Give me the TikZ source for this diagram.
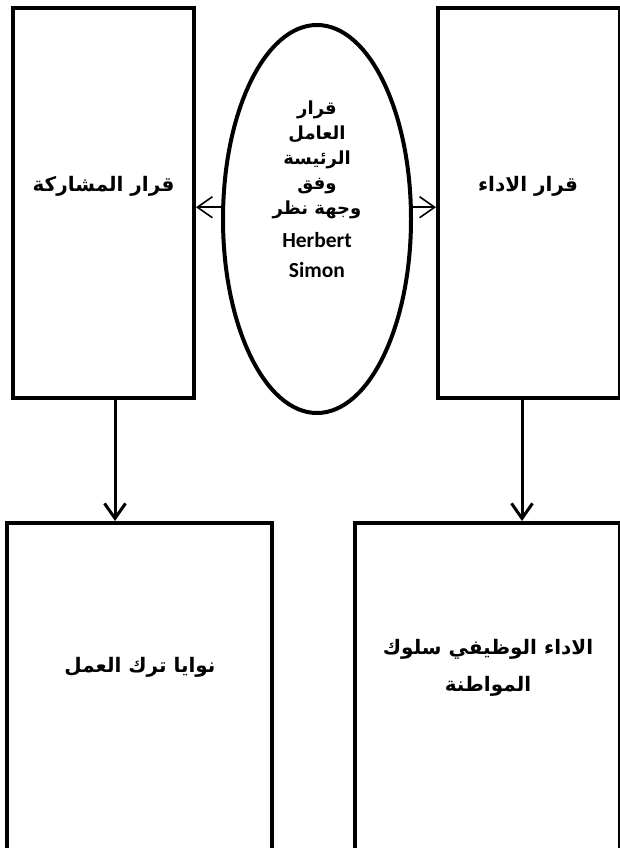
\documentclass[tikz,border=0pt]{standalone}
\usepackage{fontspec}
\usetikzlibrary{arrows.meta,shapes.geometric}
\TeXXeTstate=1
\newfontfamily\arabicfont[Script=Arabic]{DejaVu Sans}
\newfontfamily\latinfont{Carlito}

\begin{document}
\begin{tikzpicture}[x=1pt,y=1pt,
    box/.style={draw, line width=4pt, rectangle, inner sep=0pt},
    txt/.style={font=\arabicfont\bfseries\fontsize{20}{25}\selectfont, align=center},
    harr/.style={-{Straight Barb[length=15pt,width=21pt]}, line width=1.6pt},
    varr/.style={-{Straight Barb[length=15pt,width=21pt]}, line width=3pt}]
    \useasboundingbox (0,0) rectangle (619,-848);
    \fill[white] (0,0) rectangle (619,-848);
    \begin{scope}
        \node[box, minimum width=181pt, minimum height=390pt] (part) at (103.5,-203) {};
        \node[box, minimum width=182pt, minimum height=390pt] (perf) at (529,-203) {};
        \node[draw, ellipse, line width=4pt, inner sep=0pt, minimum width=188pt, minimum height=388pt] (ell) at (317,-219) {};
        \node[box, minimum width=265pt, minimum height=357pt] (leave) at (139.5,-701.5) {};
        \node[box, minimum width=265pt, minimum height=357pt] (ocb) at (487.5,-701.5) {};
    \end{scope}
    \node[txt] (partText) at (103.5,-186) {\beginR قرار المشاركة\endR};
    \node[txt] (perfText) at (528,-186) {\beginR قرار الاداء\endR};
    \node[txt, font=\arabicfont\bfseries\fontsize{18}{25}\selectfont] (ellText) at (317,-189) {\beginR قرار\endR\\ \beginR العامل\endR\\ \beginR الرئيسة\endR\\ \beginR وفق\endR\\ \beginR وجهة نظر\endR\\[8pt]
        {\latinfont\fontsize{21.5}{30}\selectfont Herbert}\\[5pt] {\latinfont\fontsize{21.5}{30}\selectfont Simon}};
    \node[txt] (leaveText) at (140,-667) {\beginR نوايا ترك العمل\endR};
    \node[txt, font=\arabicfont\bfseries\fontsize{20}{37}\selectfont] (ocbText) at (488,-668) {\beginR الاداء الوظيفي سلوك\endR\\ \beginR المواطنة\endR};

    \draw[harr] (ell.173) -- (ell.173 -| part.east);
    \draw[harr] (ell.7) -- (ell.7 -| perf.west);
    \draw[varr] ([xshift=11.5pt]part.south) -- ([xshift=11.5pt]part.south |- leave.north);
    \draw[varr] ([xshift=-7pt]perf.south) -- ([xshift=-7pt]perf.south |- ocb.north);
\end{tikzpicture}
\end{document}
